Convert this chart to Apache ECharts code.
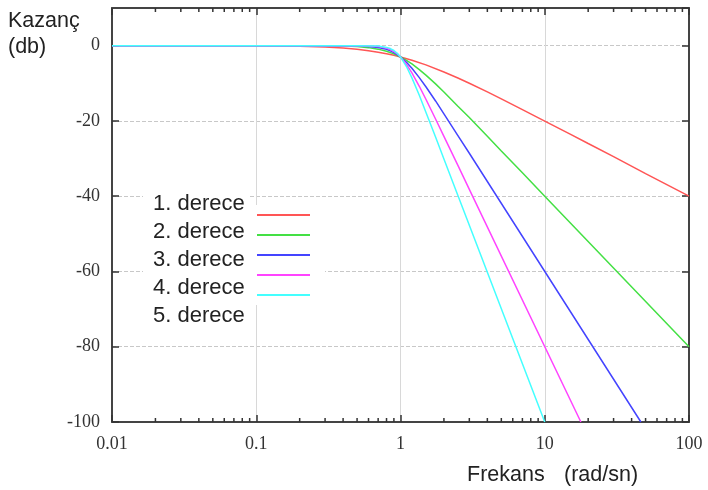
<!DOCTYPE html>
<html>
<head>
<meta charset="utf-8">
<script src="https://cdn.jsdelivr.net/npm/echarts@6/dist/echarts.min.js"></script>
<style>html,body{margin:0;padding:0;background:#fff;}#c{width:708px;height:490px;}</style>
</head>
<body>
<div id="c"></div>
<script>
// ---- data ----
var seriesNames = ['1. derece', '2. derece', '3. derece', '4. derece', '5. derece'];
var freq1 = [0.01, 0.1, 0.2, 0.3, 0.4, 0.5, 0.6, 0.7, 0.8, 0.9, 1, 1.2, 1.5, 2, 2.5, 3, 4, 5, 7, 10, 15, 20, 30, 50, 100];
var gain1 = [0, -0.04, -0.17, -0.37, -0.64, -0.97, -1.34, -1.73, -2.15, -2.57, -3.01, -3.87, -5.12, -6.99, -8.6, -10, -12.3, -14.15, -17, -20.04, -23.5, -26, -29.5, -34, -40];
var freq2 = [0.01, 0.1, 0.3, 0.4, 0.5, 0.6, 0.7, 0.8, 0.9, 1, 1.1, 1.2, 1.35, 1.5, 1.75, 2, 2.5, 3, 4, 5, 7, 10, 100];
var gain2 = [0, 0, -0.04, -0.11, -0.26, -0.53, -0.93, -1.49, -2.18, -3.01, -3.92, -4.87, -6.36, -7.83, -10.16, -12.3, -16.1, -19.1, -24.1, -28, -33.8, -40, -80];
var freq3 = [0.01, 0.1, 0.5, 0.6, 0.7, 0.8, 0.85, 0.9, 0.95, 1, 1.1, 1.2, 1.35, 1.5, 1.75, 2, 2.5, 3, 46.4];
var gain3 = [0, 0, -0.07, -0.2, -0.48, -0.97, -1.39, -1.85, -2.39, -3.01, -4.43, -6.0, -8.5, -10.93, -14.7, -18.13, -23.9, -28.6, -100];
var freq4 = [0.01, 0.1, 0.5, 0.6, 0.7, 0.8, 0.85, 0.9, 0.95, 1, 1.1, 1.2, 1.35, 1.5, 1.75, 2, 2.5, 3, 17.8];
var gain4 = [0, 0, -0.02, -0.07, -0.24, -0.64, -1.05, -1.56, -2.2, -3.01, -4.97, -7.24, -10.8, -14.25, -19.5, -24.1, -31.8, -38.2, -100];
var freq5 = [0.01, 0.1, 0.5, 0.7, 0.8, 0.85, 0.9, 0.95, 1, 1.1, 1.2, 1.35, 1.5, 1.75, 2, 2.5, 3, 10];
var gain5 = [0, 0, 0, -0.12, -0.47, -0.78, -1.3, -2.04, -3.01, -5.55, -8.57, -13.2, -17.7, -24.3, -30.1, -39.8, -47.7, -100];
var minorTicks = [0.02,0.03,0.04,0.05,0.06,0.07,0.08,0.09,
                  0.2,0.3,0.4,0.5,0.6,0.7,0.8,0.9,
                  2,3,4,5,6,7,8,9,
                  20,30,40,50,60,70,80,90];
var xTickLabels = {0.01: '0.01', 0.1: '0.1', 1: '1', 10: '10', 100: '100'};
var yMin = -100, yMax = 10, yStep = 20;

var colors = ['#ff5555', '#44e044', '#4444ff', '#ff44ff', '#44ffff'];
var freqs = [freq1, freq2, freq3, freq4, freq5];
var gains = [gain1, gain2, gain3, gain4, gain5];

function pairs(xs, ys) { return xs.map(function (x, i) { return [x, ys[i]]; }); }

var axisLineStyle = { color: '#444', width: 2 };
var serifLabel = { fontFamily: 'Liberation Serif', fontSize: 18, color: '#333' };

var series = seriesNames.map(function (n, i) {
  return {
    name: n, type: 'line', xAxisIndex: 0, yAxisIndex: 0,
    data: pairs(freqs[i], gains[i]),
    showSymbol: false, smooth: false,
    lineStyle: { color: colors[i], width: 1.5 }, itemStyle: { color: colors[i] },
    emphasis: { disabled: true }, z: 3
  };
});
series.push({
  type: 'custom', xAxisIndex: 0, yAxisIndex: 0, silent: true, z: 4,
  data: minorTicks.map(function (x) { return [x, yMin]; }),
  renderItem: function (params, api) {
    var b = api.coord([api.value(0), yMin]);
    var t = api.coord([api.value(0), yMax]);
    var st = { stroke: '#333', lineWidth: 1.5 };
    return { type: 'group', children: [
      { type: 'line', shape: { x1: b[0], y1: b[1], x2: b[0], y2: b[1] - 4 }, style: st },
      { type: 'line', shape: { x1: t[0], y1: t[1], x2: t[0], y2: t[1] + 4 }, style: st }
    ]};
  }
});

var chart = echarts.init(document.getElementById('c'), null, { renderer: 'canvas' });
chart.setOption({
  animation: false,
  backgroundColor: '#fff',
  title: [
    { text: 'Kazanç\n(db)', left: 8, top: 8, padding: 0,
      textStyle: { fontFamily: 'Liberation Sans', fontSize: 21.5, fontWeight: 'normal', color: '#222', lineHeight: 26 } },
    { text: 'Frekans', left: 467, top: 462, padding: 0,
      textStyle: { fontFamily: 'Liberation Sans', fontSize: 21.5, fontWeight: 'normal', color: '#222', lineHeight: 26 } },
    { text: '(rad/sn)', left: 564, top: 462, padding: 0,
      textStyle: { fontFamily: 'Liberation Sans', fontSize: 21.5, fontWeight: 'normal', color: '#222', lineHeight: 26 } }
  ],
  legend: [
    { data: seriesNames, orient: 'vertical', left: 143, top: 191, padding: [2, 5, 4, 5],
      icon: 'none', itemWidth: 0, itemHeight: 22, itemGap: 6, selectedMode: false,
      backgroundColor: '#fff',
      textStyle: { fontFamily: 'Liberation Sans', fontSize: 22, color: '#222' } },
    { data: seriesNames, orient: 'vertical', left: 250, top: 205, padding: [9, 10, 9, 7],
      icon: 'rect', itemWidth: 53, itemHeight: 2, itemGap: 18, selectedMode: false,
      backgroundColor: '#fff', formatter: function () { return ''; },
      textStyle: { fontSize: 1, lineHeight: 1 } }
  ],
  grid: { left: 112, right: 19, top: 8, bottom: 68, containLabel: false },
  xAxis: [
    { type: 'log', logBase: 10, min: 0.01, max: 100, position: 'bottom',
      axisLine: { show: true, onZero: false, lineStyle: axisLineStyle },
      axisTick: { show: true, inside: true, length: 7, lineStyle: { color: '#333', width: 1.5 } },
      axisLabel: Object.assign({ margin: 13, formatter: function (v) { return xTickLabels[v] || xTickLabels[+v.toPrecision(3)] || ''; } }, serifLabel),
      splitLine: { show: true, lineStyle: { color: '#d8d8d8', width: 1 } } },
    { type: 'log', logBase: 10, min: 0.01, max: 100, position: 'top',
      axisLine: { show: true, onZero: false, lineStyle: axisLineStyle },
      axisTick: { show: true, inside: true, length: 7, lineStyle: { color: '#333', width: 1.5 } },
      axisLabel: { show: false }, splitLine: { show: false } }
  ],
  yAxis: [
    { type: 'value', min: yMin, max: yMax, interval: yStep, position: 'left',
      axisLine: { show: true, onZero: false, lineStyle: axisLineStyle },
      axisTick: { show: true, inside: true, length: 7, lineStyle: { color: '#333', width: 1.5 } },
      axisLabel: Object.assign({ margin: 12, showMaxLabel: false,
        formatter: function (v) { return v > 0 ? '' : String(v); } }, serifLabel),
      splitLine: { show: true, lineStyle: { color: '#c8c8c8', width: 1, type: [4, 2] } } },
    { type: 'value', min: yMin, max: yMax, interval: yStep, position: 'right',
      axisLine: { show: true, onZero: false, lineStyle: axisLineStyle },
      axisTick: { show: true, inside: true, length: 7, lineStyle: { color: '#333', width: 1.5 } },
      axisLabel: { show: false }, splitLine: { show: false } }
  ],
  series: series
});
</script>
</body>
</html>
